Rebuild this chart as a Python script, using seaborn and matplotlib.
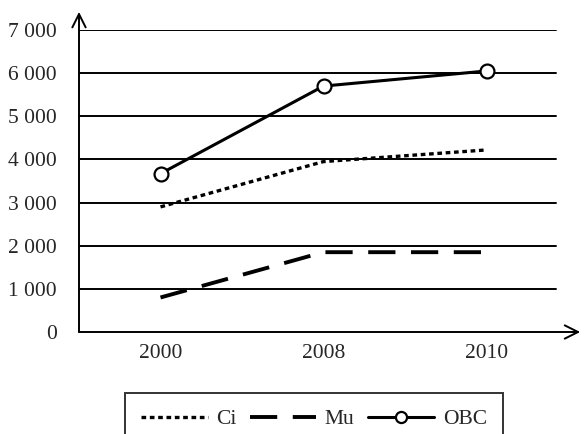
import matplotlib
matplotlib.use('Agg')
import matplotlib.pyplot as plt
import pandas as pd
import seaborn as sns
from matplotlib.lines import Line2D

years = ['2000', '2008', '2010']
ci = [2900, 3950, 4220]
mu = [800, 1850, 1850]
obc = [3670, 5700, 6050]
y_ticks = [0, 1000, 2000, 3000, 4000, 5000, 6000, 7000]
y_labels = ['0', '1 000', '2 000', '3 000', '4 000', '5 000', '6 000', '7 000']

df = pd.DataFrame({'year': years * 3,
                   'value': ci + mu + obc,
                   'series': ['Ci'] * 3 + ['Mu'] * 3 + ['OBC'] * 3})

sns.set_style('white')
plt.rcParams['font.family'] = ['Liberation Serif', 'DejaVu Serif']
plt.rcParams['font.size'] = 15.5

fig = plt.figure(figsize=(5.85, 4.34), dpi=100)
ax = fig.add_axes([79 / 585, 1 - 332 / 434, 489 / 585, 302 / 434])

# horizontal grid lines
for v in y_ticks[1:]:
    ax.axhline(v, xmin=0, xmax=0.975, color='black', lw=1.4, zorder=1)

sns.lineplot(data=df[df.series == 'Ci'], x='year', y='value', ax=ax,
             color='black', lw=2.4, linestyle=(0, (1.4, 1.1)), zorder=3)
sns.lineplot(data=df[df.series == 'Mu'], x='year', y='value', ax=ax,
             color='black', lw=2.8, linestyle=(0, (7, 4)), zorder=3)
sns.lineplot(data=df[df.series == 'OBC'], x='year', y='value', ax=ax,
             color='black', lw=2.2, marker='o', markersize=10,
             markerfacecolor='white', markeredgecolor='black',
             markeredgewidth=1.6, zorder=4)

ax.set_xlim(-0.5, 2.5)
ax.set_ylim(0, 7000)
ax.set_yticks(y_ticks)
ax.set_yticklabels(y_labels)
ax.set_xticks([0, 1, 2])
ax.set_xticklabels(years)
ax.set_xticks([-0.5, 0.5, 1.5, 2.5], minor=True)
ax.tick_params(axis='x', which='major', length=0, pad=9)
ax.tick_params(axis='x', which='minor', length=6, width=1.2, direction='out', color='black')
ax.tick_params(axis='y', length=7, width=1.2, direction='out', pad=9, color='black')
ax.set_xlabel('')
ax.set_ylabel('')
for s in ax.spines.values():
    s.set_visible(False)
if ax.get_legend():
    ax.get_legend().remove()

# axes with arrows
ax.annotate('', xy=(0, 1.06), xytext=(0, 0), xycoords='axes fraction',
            arrowprops=dict(arrowstyle='->', lw=1.4, color='black',
                            mutation_scale=24, shrinkA=0, shrinkB=0),
            annotation_clip=False)
ax.annotate('', xy=(1.025, 0), xytext=(0, 0), xycoords='axes fraction',
            arrowprops=dict(arrowstyle='->', lw=1.4, color='black',
                            mutation_scale=24, shrinkA=0, shrinkB=0),
            annotation_clip=False)

handles = [
    Line2D([], [], color='black', lw=2.4, linestyle=(0, (1.4, 1.1))),
    Line2D([], [], color='black', lw=2.8, linestyle=(0, (7, 4))),
    Line2D([], [], color='black', lw=2.2, marker='o', markersize=8,
           markerfacecolor='white', markeredgewidth=1.6),
]
leg = fig.legend(handles, ['Ci', 'Mu', 'OBC'], loc='upper center',
                 bbox_to_anchor=(314 / 585, 1 - 393 / 434), ncol=3,
                 frameon=True, fancybox=False, edgecolor='black',
                 handlelength=3.1, handletextpad=0.4, columnspacing=0.6,
                 borderpad=0.75, borderaxespad=0)
leg.get_frame().set_linewidth(1.4)

fig.savefig('out.png', dpi=100)
